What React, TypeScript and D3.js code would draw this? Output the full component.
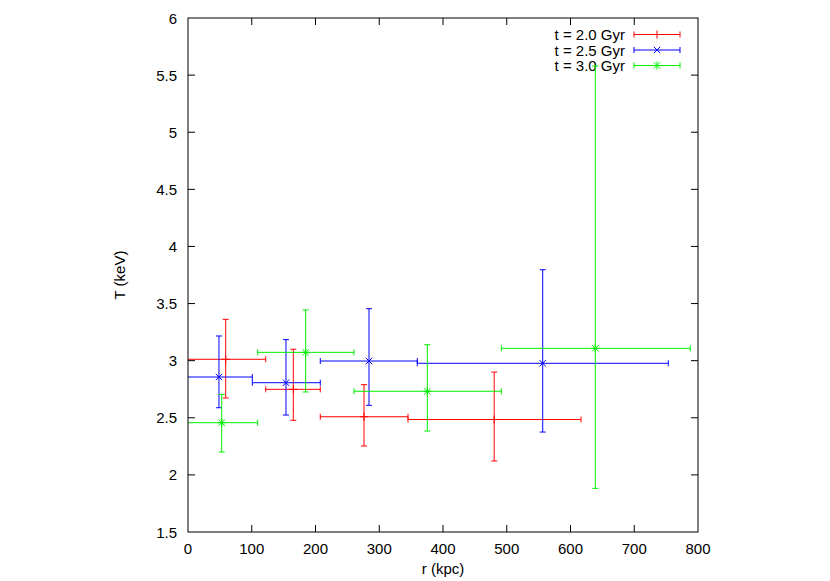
import React from "react";
import * as d3 from "d3";

// ---- data ----
const xTicks = [0, 100, 200, 300, 400, 500, 600, 700, 800];
const yTicks = [1.5, 2, 2.5, 3, 3.5, 4, 4.5, 5, 5.5, 6];

const labels = ["t = 2.0 Gyr", "t = 2.5 Gyr", "t = 3.0 Gyr"];
const colors = ["#ff0000", "#0000ff", "#00f000"];
const markers = ["plus", "cross", "star"];

// t = 2.0 Gyr
const r20 = [59.1, 165.2, 276.1, 480.3];
const r20Lo = [0, 121.9, 207.5, 345.1];
const r20Hi = [121.9, 207.5, 345.1, 616.5];
const T20 = [3.012, 2.749, 2.509, 2.485];
const T20Lo = [2.673, 2.478, 2.253, 2.122];
const T20Hi = [3.362, 3.10, 2.79, 2.90];

// t = 2.5 Gyr
const r25 = [48.6, 153.7, 283.9, 556.4];
const r25Lo = [0, 100.9, 207.5, 359.7];
const r25Hi = [100.9, 207.5, 359.7, 753.4];
const T25 = [2.857, 2.807, 2.997, 2.977];
const T25Lo = [2.588, 2.524, 2.609, 2.375];
const T25Hi = [3.216, 3.184, 3.455, 3.796];

// t = 3.0 Gyr
const r30 = [52.9, 184.6, 375.4, 638.9];
const r30Lo = [0, 109.3, 260.4, 491.5];
const r30Hi = [109.3, 260.4, 491.5, 787.9];
const T30 = [2.457, 3.073, 2.732, 3.108];
const T30Lo = [2.20, 2.726, 2.384, 1.882];
const T30Hi = [2.705, 3.444, 3.14, 5.58];

const series = [
  { r: r20, rLo: r20Lo, rHi: r20Hi, T: T20, TLo: T20Lo, THi: T20Hi },
  { r: r25, rLo: r25Lo, rHi: r25Hi, T: T25, TLo: T25Lo, THi: T25Hi },
  { r: r30, rLo: r30Lo, rHi: r30Hi, T: T30, TLo: T30Lo, THi: T30Hi },
];

const W = 830;
const H = 581;
const L = 188, R = 698, T = 18, B = 532;
const FONT = "'Liberation Sans', Arial, Helvetica, sans-serif";

function Marker({ kind, x, y, color }: { kind: string; x: number; y: number; color: string }) {
  const s = 4;
  const plus = `M${x - s},${y}H${x + s}M${x},${y - s}V${y + s}`;
  const cross = `M${x - s * 0.8},${y - s * 0.8}L${x + s * 0.8},${y + s * 0.8}M${x - s * 0.8},${y + s * 0.8}L${x + s * 0.8},${y - s * 0.8}`;
  let d = plus;
  if (kind === "cross") d = cross;
  if (kind === "star") d = plus + cross;
  return <path d={d} stroke={color} strokeWidth={1} fill="none" />;
}

export default function App() {
  const x = d3.scaleLinear().domain([0, 800]).range([L, R]);
  const y = d3.scaleLinear().domain([1.5, 6]).range([B, T]);
  const cap = 3;
  const tick = 7;

  return (
    <svg width={W} height={H} style={{ position: "absolute", left: 0, top: 0, background: "#fff" }}
      fontFamily={FONT} fontSize={15}>
      <rect width={W} height={H} fill="#fff" />
      {/* ticks */}
      {xTicks.map((v) => (
        <g key={"x" + v}>
          {v > 0 && v < 800 && (
            <>
              <line x1={x(v)} x2={x(v)} y1={B} y2={B - tick} stroke="#000" />
              <line x1={x(v)} x2={x(v)} y1={T} y2={T + tick} stroke="#000" />
            </>
          )}
          <text x={x(v)} y={554} textAnchor="middle" fill="#000">{v}</text>
        </g>
      ))}
      {yTicks.map((v) => (
        <g key={"y" + v}>
          {v > 1.5 && v < 6 && (
            <>
              <line x1={L} x2={L + tick} y1={y(v)} y2={y(v)} stroke="#000" />
              <line x1={R} x2={R - tick} y1={y(v)} y2={y(v)} stroke="#000" />
            </>
          )}
          <text x={177} y={y(v) + 5.5} textAnchor="end" fill="#000">{v}</text>
        </g>
      ))}
      <text x={443} y={574} textAnchor="middle" fill="#000">r (kpc)</text>
      <text transform={`translate(125,${(T + B) / 2}) rotate(-90)`} textAnchor="middle" fill="#000">T (keV)</text>

      {/* data */}
      {series.map((s, si) => {
        const c = colors[si];
        const ly = [34.5, 50, 65.5][si];
        const lx1 = 634, lx2 = 680, lxm = 657;
        return (
          <g key={si}>
            {/* legend */}
            <text x={625} y={ly + 5.5} textAnchor="end" fill="#000">{labels[si]}</text>
            <line x1={lx1} x2={lx2} y1={ly} y2={ly} stroke={c} />
            <line x1={lx1} x2={lx1} y1={ly - cap} y2={ly + cap} stroke={c} />
            <line x1={lx2} x2={lx2} y1={ly - cap} y2={ly + cap} stroke={c} />
            <Marker kind={markers[si]} x={lxm} y={ly} color={c} />
            {s.r.map((rv, i) => {
              const px = x(rv), py = y(s.T[i]);
              const xl = x(s.rLo[i]), xh = x(s.rHi[i]);
              const yl = y(s.TLo[i]), yh = y(s.THi[i]);
              return (
                <g key={i}>
                  <line x1={xl} x2={xh} y1={py} y2={py} stroke={c} />
                  {s.rLo[i] > 0 && <line x1={xl} x2={xl} y1={py - cap} y2={py + cap} stroke={c} />}
                  <line x1={xh} x2={xh} y1={py - cap} y2={py + cap} stroke={c} />
                  <line x1={px} x2={px} y1={yl} y2={yh} stroke={c} />
                  <line x1={px - cap} x2={px + cap} y1={yl} y2={yl} stroke={c} />
                  <line x1={px - cap} x2={px + cap} y1={yh} y2={yh} stroke={c} />
                  <Marker kind={markers[si]} x={px} y={py} color={c} />
                </g>
              );
            })}
          </g>
        );
      })}

      {/* frame */}
      <rect x={L} y={T} width={R - L} height={B - T} fill="none" stroke="#000" strokeWidth={1} />
    </svg>
  );
}
